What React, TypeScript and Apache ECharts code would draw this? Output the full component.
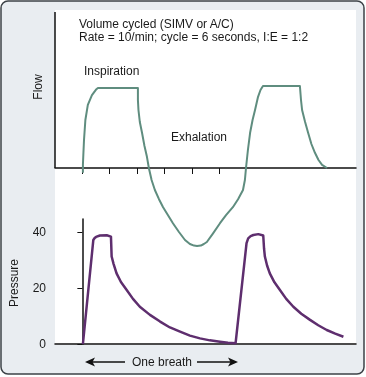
import React, { useEffect, useRef } from "react";
import * as echarts from "echarts";

// Flow curve (time in seconds, relative flow)
const flowTime = [0.02, 0.02, 0.04, 0.06, 0.11, 0.2, 0.35, 0.5, 0.57, 2.03, 2.03, 2.05, 2.1, 2.18, 2.27, 2.36, 2.43, 2.53, 2.65, 2.8, 2.95, 3.13, 3.31, 3.53, 3.75, 3.93, 4.08, 4.19, 4.33, 4.44, 4.55, 4.77, 5.03, 5.25, 5.5, 5.69, 5.87, 5.94, 5.98, 6.05, 6.13, 6.22, 6.31, 6.42, 6.51, 6.6, 7.95, 7.99, 8.03, 8.14, 8.25, 8.37, 8.5, 8.63, 8.76, 8.94];
const flowValues = [-0.06, 0.04, 0.2, 0.35, 0.6, 0.79, 0.91, 0.98, 1.0, 1.0, 0.85, 0.725, 0.575, 0.44, 0.275, 0.14, 0, -0.15, -0.275, -0.39, -0.49, -0.59, -0.69, -0.8, -0.9, -0.95, -0.97, -0.975, -0.97, -0.95, -0.925, -0.82, -0.69, -0.59, -0.49, -0.39, -0.275, -0.15, 0, 0.225, 0.44, 0.6, 0.725, 0.89, 0.975, 1.025, 1.025, 0.85, 0.725, 0.575, 0.44, 0.3, 0.19, 0.1, 0.04, 0];

// Pressure curve (time in seconds, cmH2O)
const pressureTime = [0.02, 0.4, 0.45, 0.5, 0.64, 0.89, 1.045, 1.07, 1.14, 1.25, 1.41, 1.62, 1.85, 2.1, 2.47, 2.84, 3.2, 3.57, 3.93, 4.3, 4.66, 5.03, 5.32, 5.6, 6.0, 6.06, 6.15, 6.25, 6.43, 6.61, 6.64, 6.67, 6.75, 6.85, 7.02, 7.22, 7.45, 7.71, 8.0, 8.32, 8.62, 8.93, 9.24, 9.54];
const pressureValues = [0, 37.1, 37.8, 38.2, 38.7, 38.8, 38.3, 31.2, 28.6, 25.2, 22.1, 19.3, 16.1, 13.3, 10.4, 8.0, 5.9, 4.4, 3.0, 2.0, 1.3, 0.8, 0.45, 0.3, 36, 37.7, 38.5, 38.9, 39.2, 38.7, 34, 31.2, 28, 25.2, 22, 19.3, 16.1, 13.3, 10.8, 8.6, 6.7, 5.0, 3.7, 2.6];

const flowTicks = [0, 1, 2, 3, 4, 5];
const pressureTicks = [0, 20, 40];

const titleLines = ["Volume cycled (SIMV or A/C)", "Rate = 10/min; cycle = 6 seconds, I:E = 1:2"];

const FONT = '"Liberation Sans", Arial, Helvetica, sans-serif';
const TEXT = "#1a1a1a";

export default function App() {
  const ref = useRef<HTMLDivElement>(null);
  useEffect(() => {
    if (!ref.current) return;
    const chart = echarts.init(ref.current, null, { renderer: "svg" });
    const flowData = flowTime.map((t, i) => [t, flowValues[i]]);
    const pressureData = pressureTime.map((t, i) => [t, pressureValues[i]]);
    const txt = (text: string, x: number, y: number, extra: any = {}) => ({
      type: "text",
      x,
      y,
      z: 100,
      style: { text, fill: TEXT, font: `12px ${FONT}`, textVerticalAlign: "middle", ...extra },
    });
    chart.setOption({
      animation: false,
      grid: [
        { left: 55, right: 10, top: 12, height: 244 },
        { left: 55, right: 10, top: 219, height: 125 },
      ],
      xAxis: [
        {
          gridIndex: 0,
          type: "value",
          min: -1,
          max: 10,
          axisLine: { onZero: true, lineStyle: { color: "#111", width: 1.5 } },
          axisTick: { show: true, customValues: flowTicks, length: 6, lineStyle: { color: "#111", width: 1 } },
          axisLabel: { show: false },
          splitLine: { show: false },
        },
        {
          gridIndex: 1,
          type: "value",
          min: -1,
          max: 10,
          axisLine: { lineStyle: { color: "#111", width: 1.5 } },
          axisTick: { show: false },
          axisLabel: { show: false },
          splitLine: { show: false },
        },
      ],
      yAxis: [
        {
          gridIndex: 0,
          type: "value",
          min: -1.1,
          max: 1.95,
          axisLine: { show: false },
          axisTick: { show: false },
          axisLabel: { show: false },
          splitLine: { show: false },
        },
        {
          gridIndex: 1,
          type: "value",
          min: 0,
          max: 44.6,
          axisLine: { show: true, lineStyle: { color: "#111", width: 1.5 } },
          axisTick: { show: true, customValues: pressureTicks, length: 5, lineStyle: { color: "#111", width: 1 } },
          axisLabel: { customValues: pressureTicks, fontSize: 12, color: TEXT, fontFamily: FONT, margin: 9 },
          splitLine: { show: false },
        },
      ],
      graphic: [
        {
          type: "rect",
          z: -100,
          silent: true,
          shape: { x: 1, y: 1, width: 363, height: 373, r: 7 },
          style: { fill: "#e9edf1", stroke: "#3c4247", lineWidth: 1.5 },
        },
        {
          type: "rect",
          z: -90,
          silent: true,
          shape: { x: 55, y: 10, width: 301, height: 335 },
          style: { fill: "#ffffff" },
        },
        txt(titleLines[0], 79, 24),
        txt(titleLines[1], 79, 36.5),
        txt("Inspiration", 84, 71),
        txt("Exhalation", 171, 137),
        txt("One breath", 162, 362, { textAlign: "center" }),
        {
          type: "text",
          x: 38,
          y: 87,
          rotation: Math.PI / 2,
          z: 100,
          style: { text: "Flow", fill: TEXT, font: `12px ${FONT}`, textAlign: "center", textVerticalAlign: "middle" },
        },
        {
          type: "text",
          x: 14,
          y: 283,
          rotation: Math.PI / 2,
          z: 100,
          style: { text: "Pressure", fill: TEXT, font: `12px ${FONT}`, textAlign: "center", textVerticalAlign: "middle" },
        },
        {
          type: "line",
          z: 100,
          shape: { x1: 92, y1: 362, x2: 125, y2: 362 },
          style: { stroke: "#111", lineWidth: 1.5 },
        },
        {
          type: "polygon",
          z: 100,
          shape: { points: [[85, 362], [95, 357.5], [92.5, 362], [95, 366.5]] },
          style: { fill: "#111" },
        },
        {
          type: "line",
          z: 100,
          shape: { x1: 197, y1: 362, x2: 231, y2: 362 },
          style: { stroke: "#111", lineWidth: 1.5 },
        },
        {
          type: "polygon",
          z: 100,
          shape: { points: [[238, 362], [228, 357.5], [230.5, 362], [228, 366.5]] },
          style: { fill: "#111" },
        },
      ],
      series: [
        {
          type: "line",
          xAxisIndex: 0,
          yAxisIndex: 0,
          data: [[-1, 0], [-1, 1.95]],
          showSymbol: false,
          lineStyle: { color: "#111", width: 1.5 },
          silent: true,
        },
        {
          type: "line",
          xAxisIndex: 0,
          yAxisIndex: 0,
          data: flowData,
          showSymbol: false,
          smooth: false,
          lineStyle: { color: "#5f8d7f", width: 2, join: "round" },
        },
        {
          type: "line",
          xAxisIndex: 1,
          yAxisIndex: 1,
          data: pressureData,
          showSymbol: false,
          smooth: false,
          lineStyle: { color: "#5e2e6e", width: 2.5, join: "round" },
        },
      ],
    });
    return () => chart.dispose();
  }, []);
  return <div ref={ref} style={{ position: "fixed", left: 0, top: 0, width: 366, height: 377 }} />;
}
